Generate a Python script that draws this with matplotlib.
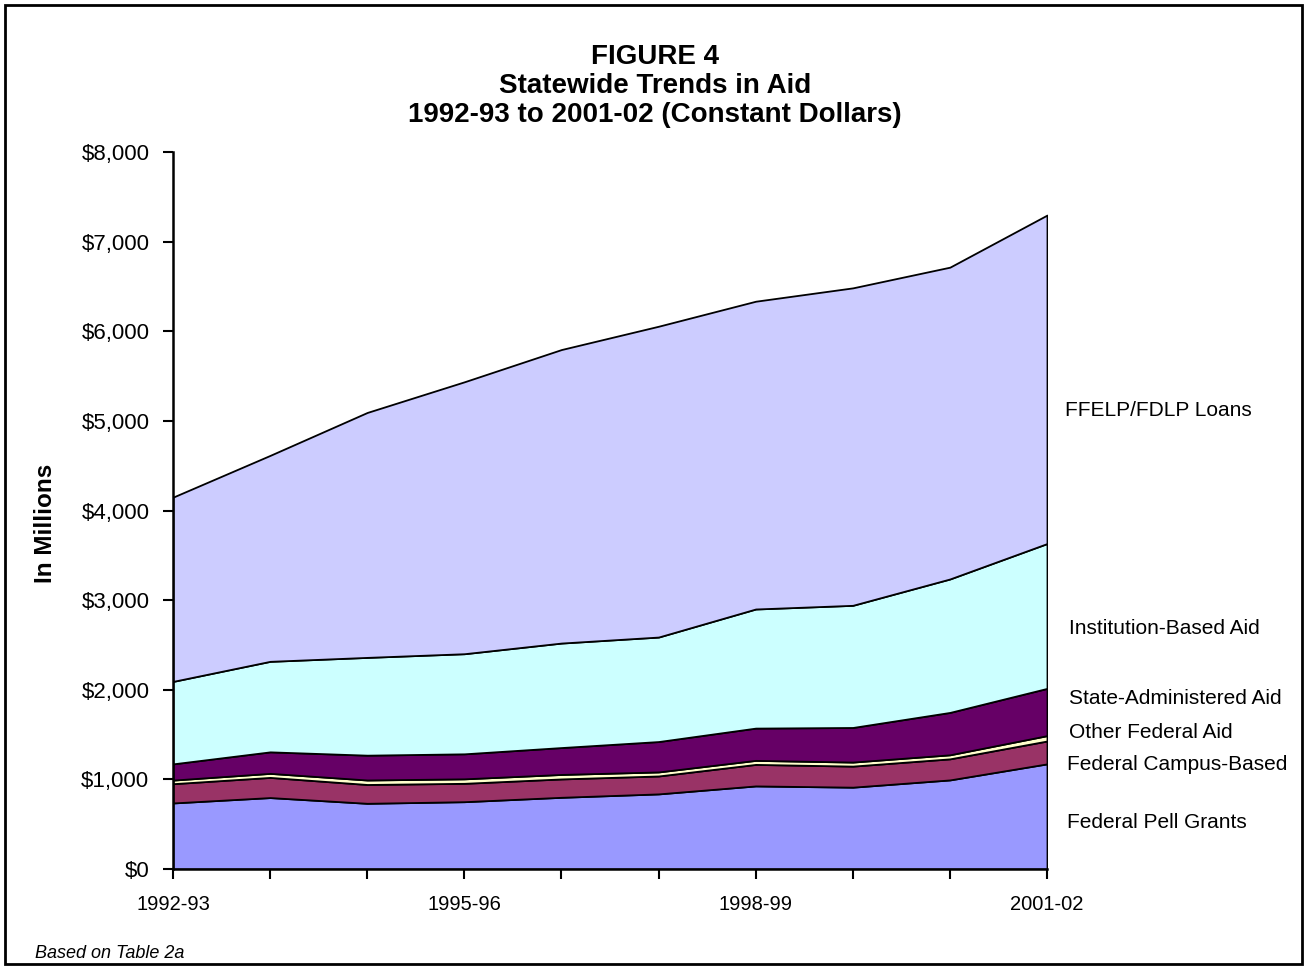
import matplotlib.pyplot as plt
from matplotlib.patches import Rectangle

plt.rcParams['font.family'] = ['Liberation Sans', 'DejaVu Sans']

years = ['1992-93', '1993-94', '1994-95', '1995-96', '1996-97',
         '1997-98', '1998-99', '1999-00', '2000-01', '2001-02']

# millions of constant dollars
pell = [737, 797, 733, 751, 800, 838, 927, 913, 994, 1173]
campus = [215, 225, 210, 205, 205, 200, 240, 235, 235, 255]
other_fed = [40, 45, 50, 50, 50, 45, 45, 45, 45, 60]
state_aid = [181, 240, 277, 279, 300, 339, 360, 386, 473, 527]
institution = [920, 1010, 1091, 1117, 1166, 1166, 1329, 1363, 1489, 1616]
loans = [2056, 2298, 2733, 3034, 3275, 3468, 3434, 3542, 3479, 3665]

series_names = ['Federal Pell Grants', 'Federal Campus-Based', 'Other Federal Aid',
                'State-Administered Aid', 'Institution-Based Aid', 'FFELP/FDLP Loans']
colors = ['#9999FF', '#993366', '#FFFFCC', '#660066', '#CCFFFF', '#CCCCFF']

fig = plt.figure(figsize=(13.07, 9.69), dpi=100)
ax = fig.add_axes([173 / 1307, 1 - 869 / 969, (1047 - 173) / 1307, (869 - 152) / 969])

x = list(range(len(years)))
ax.stackplot(x, pell, campus, other_fed, state_aid, institution, loans,
             colors=colors, edgecolor='black', linewidth=1.3)

ax.set_xlim(0, len(years) - 1)
ax.set_ylim(0, 8000)
ax.set_xticks(x)
ax.set_xticklabels([y if i % 3 == 0 else '' for i, y in enumerate(years)], fontsize=14.5)
ax.set_yticks(range(0, 8001, 1000))
ax.set_yticklabels(['${:,}'.format(v) for v in range(0, 8001, 1000)], fontsize=16)
ax.tick_params(direction='out', length=7, width=1.5, colors='black')
ax.tick_params(axis='y', pad=10)
ax.tick_params(axis='x', pad=12)
for s in ['top', 'right']:
    ax.spines[s].set_visible(False)
for s in ['left', 'bottom']:
    ax.spines[s].set_linewidth(1.8)

fig.text(45 / 1307, 1 - 523 / 969, 'In Millions', rotation=90, ha='center', va='center',
         fontsize=17.5, fontweight='bold')

fig.text(655 / 1307, 1 - 86 / 969, 'FIGURE 4\nStatewide Trends in Aid\n1992-93 to 2001-02 (Constant Dollars)',
         ha='center', va='center', fontsize=20, fontweight='bold', linespacing=1.17)

# labels at the right of the plot, in pixel positions
label_pos = [(1067, 823), (1067, 765), (1069, 732), (1069, 698), (1069, 629), (1065, 410)]
for name, (px, py) in zip(series_names, label_pos):
    fig.text(px / 1307, 1 - py / 969, name, ha='left', va='center', fontsize=15)

fig.text(35 / 1307, 1 - 953 / 969, 'Based on Table 2a', ha='left', va='center',
         fontsize=13, style='italic')

fig.patches.append(Rectangle((5 / 1307, 5 / 969), 1297 / 1307, 959 / 969,
                             transform=fig.transFigure, fill=False,
                             edgecolor='black', linewidth=2))

fig.savefig('out.png', dpi=100)
